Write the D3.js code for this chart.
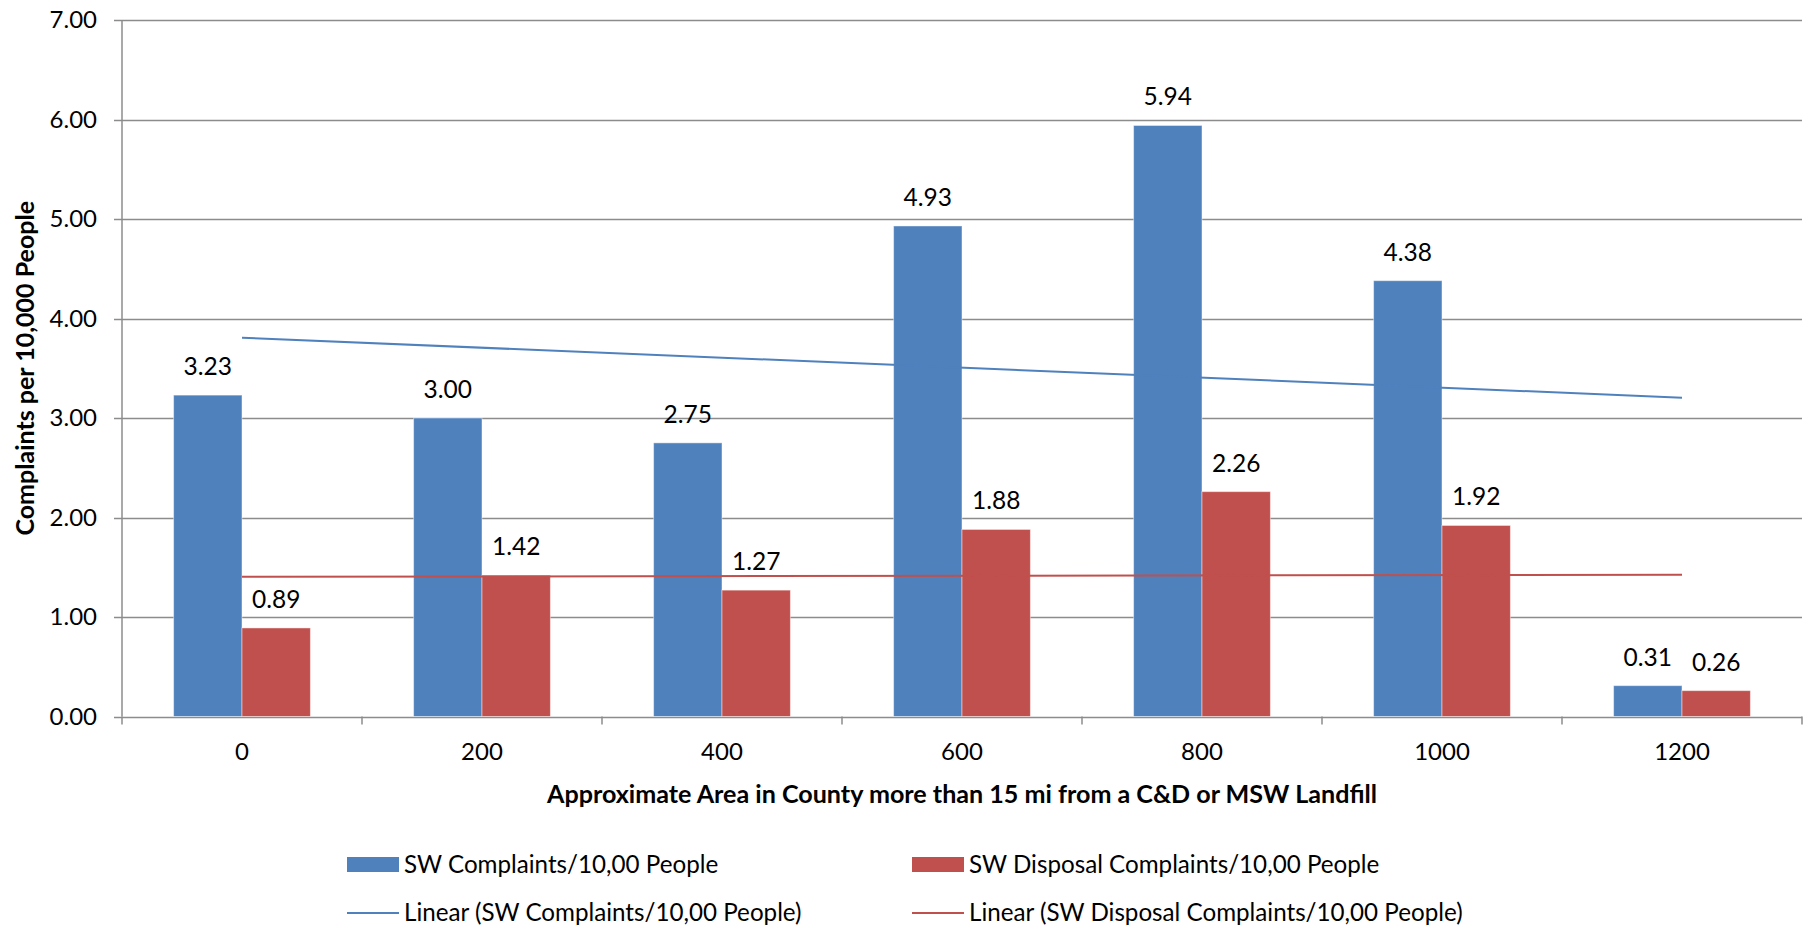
<!DOCTYPE html>
<html>
<head>
<meta charset="utf-8">
<script src="https://cdn.jsdelivr.net/npm/d3@7"></script>
<style>
  body { margin: 0; background: #fff; }
  text { font-family: Lato, "Noto Sans", sans-serif; fill: #000; }
</style>
</head>
<body>
<svg></svg>
<script>
let width = 1807, height = 931;

// data
let categories = ["0", "200", "400", "600", "800", "1000", "1200"];
let swComplaints = [3.23, 3.00, 2.75, 4.93, 5.94, 4.38, 0.31];
let swDisposal = [0.89, 1.42, 1.27, 1.88, 2.26, 1.92, 0.26];
let yTicks = [0, 1, 2, 3, 4, 5, 6, 7];
let seriesNames = ["SW Complaints/10,00 People", "SW Disposal Complaints/10,00 People"];
let colors = ["#4F81BD", "#C0504D"];

let margin = {left: 122, right: 5, top: 20, bottom: 214.5};

let svg = d3.select("svg")
  .attr("width", width)
  .attr("height", height);

let x = d3.scaleBand()
  .domain(categories)
  .range([margin.left, width - margin.right]);

let y = d3.scaleLinear()
  .domain([0, 7])
  .range([height - margin.bottom, margin.top]);

let barW = x.bandwidth() * 0.285;

// gridlines
svg.append("g")
  .selectAll("line")
  .data(yTicks)
  .enter()
  .append("line")
  .attr("x1", margin.left - 8)
  .attr("x2", width - margin.right)
  .attr("y1", d => Math.round(y(d)) + 0.5)
  .attr("y2", d => Math.round(y(d)) + 0.5)
  .attr("stroke", "#8c8c8c")
  .attr("stroke-width", 1.5);

// y axis line
svg.append("line")
  .attr("x1", margin.left).attr("x2", margin.left)
  .attr("y1", y(7)).attr("y2", y(0))
  .attr("stroke", "#8c8c8c")
  .attr("stroke-width", 1.5);

// x axis ticks
let xTickPos = categories.map(c => x(c)).concat([x(categories[categories.length - 1]) + x.bandwidth()]);
svg.append("g")
  .selectAll("line")
  .data(xTickPos)
  .enter()
  .append("line")
  .attr("x1", d => d).attr("x2", d => d)
  .attr("y1", y(0)).attr("y2", y(0) + 8)
  .attr("stroke", "#8c8c8c")
  .attr("stroke-width", 1.5);

// y tick labels
svg.append("g")
  .selectAll("text")
  .data(yTicks)
  .enter()
  .append("text")
  .attr("x", 97)
  .attr("y", d => y(d))
  .attr("dy", "0.35em")
  .attr("text-anchor", "end")
  .style("font-size", "24px")
  .text(d => d3.format(".2f")(d));

// x tick labels
svg.append("g")
  .selectAll("text")
  .data(categories)
  .enter()
  .append("text")
  .attr("x", d => x(d) + x.bandwidth() / 2)
  .attr("y", 752)
  .attr("dy", "0.35em")
  .attr("text-anchor", "middle")
  .style("font-size", "24px")
  .text(d => d);

// bars
let allSeries = [swComplaints, swDisposal];
allSeries.forEach((vals, s) => {
  let off = s === 0 ? -barW : 0;
  svg.append("g")
    .selectAll("rect")
    .data(vals)
    .enter()
    .append("rect")
    .attr("x", (d, i) => x(categories[i]) + x.bandwidth() / 2 + off)
    .attr("y", d => y(d))
    .attr("width", barW)
    .attr("height", d => y(0) - y(d))
    .attr("fill", colors[s])
    .attr("stroke", "rgba(255,255,255,0.45)")
    .attr("stroke-width", 1);

  svg.append("g")
    .selectAll("text")
    .data(vals)
    .enter()
    .append("text")
    .attr("x", (d, i) => x(categories[i]) + x.bandwidth() / 2 + off + barW / 2)
    .attr("y", d => y(d) - 20)
    .attr("text-anchor", "middle")
    .style("font-size", "24.5px")
    .text(d => d3.format(".2f")(d));
});

// linear trend lines (least squares over category index)
function trend(vals) {
  let n = vals.length;
  let mx = d3.mean(vals, (d, i) => i), my = d3.mean(vals);
  let sxy = d3.sum(vals, (d, i) => (i - mx) * (d - my));
  let sxx = d3.sum(vals, (d, i) => (i - mx) * (i - mx));
  let b = sxy / sxx, a = my - b * mx;
  return [[0, a], [n - 1, a + b * (n - 1)]];
}

let line = d3.line()
  .x(d => x(categories[d[0]]) + x.bandwidth() / 2)
  .y(d => y(d[1]));

allSeries.forEach((vals, s) => {
  svg.append("path")
    .attr("d", line(trend(vals)))
    .attr("fill", "none")
    .attr("stroke", colors[s])
    .attr("stroke-width", 2);
});

// axis titles
svg.append("text")
  .attr("x", (margin.left + width - margin.right) / 2)
  .attr("y", 794)
  .attr("dy", "0.35em")
  .attr("text-anchor", "middle")
  .style("font-size", "25.1px")
  .style("font-weight", "bold")
  .text("Approximate Area in County more than 15 mi from a C&D or MSW Landfill");

svg.append("text")
  .attr("transform", "translate(25," + (y(0) + y(7)) / 2 + ") rotate(-90)")
  .attr("dy", "0.35em")
  .attr("text-anchor", "middle")
  .style("font-size", "25px")
  .style("font-weight", "bold")
  .text("Complaints per 10,000 People");

// legend
let legendItems = [
  {label: seriesNames[0], color: colors[0], type: "rect", x: 347, y: 865},
  {label: seriesNames[1], color: colors[1], type: "rect", x: 912, y: 865},
  {label: "Linear (" + seriesNames[0] + ")", color: colors[0], type: "line", x: 347, y: 913},
  {label: "Linear (" + seriesNames[1] + ")", color: colors[1], type: "line", x: 912, y: 913}
];

let legend = svg.append("g")
  .selectAll("g")
  .data(legendItems)
  .enter()
  .append("g")
  .attr("transform", d => "translate(" + d.x + "," + d.y + ")");

legend.filter(d => d.type === "rect")
  .append("rect")
  .attr("x", 0).attr("y", -8)
  .attr("width", 52).attr("height", 15)
  .attr("fill", d => d.color);

legend.filter(d => d.type === "line")
  .append("line")
  .attr("x1", 0).attr("x2", 52)
  .attr("y1", 0).attr("y2", 0)
  .attr("stroke", d => d.color)
  .attr("stroke-width", 2);

legend.append("text")
  .attr("x", 57)
  .attr("dy", "0.35em")
  .style("font-size", "24.2px")
  .text(d => d.label);
</script>
</body>
</html>
